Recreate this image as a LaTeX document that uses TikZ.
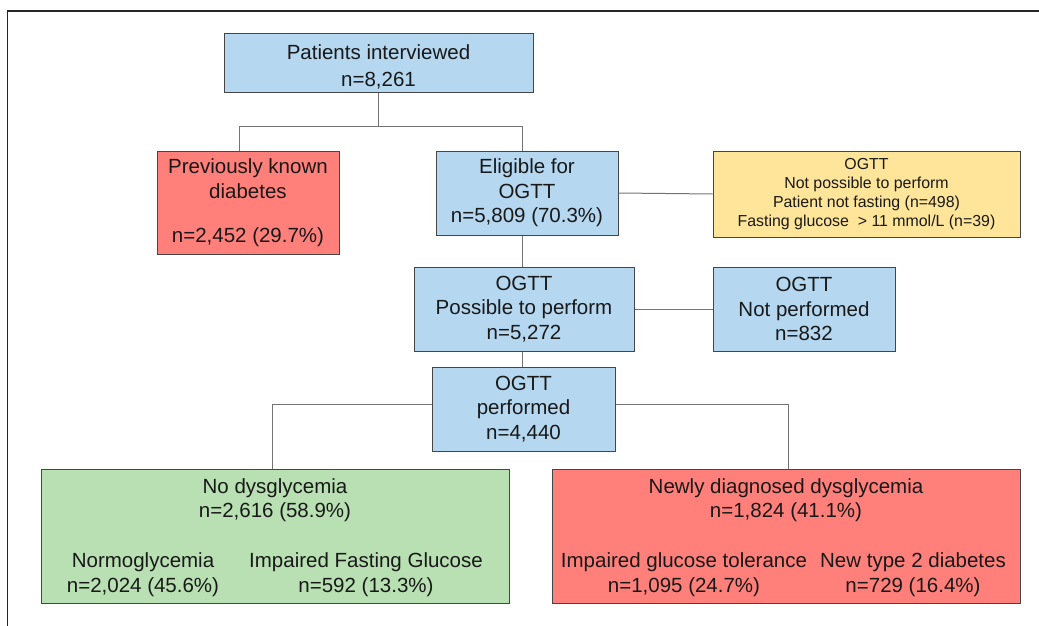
\documentclass[tikz,border=0pt]{standalone}
\usepackage{fontspec}
\setmainfont{Liberation Sans}
\definecolor{boxblue}{RGB}{181,215,240}
\definecolor{boxred}{RGB}{255,128,122}
\definecolor{boxyellow}{RGB}{255,229,153}
\definecolor{boxgreen}{RGB}{184,224,178}
\definecolor{boxline}{RGB}{70,70,70}
\definecolor{linkcol}{RGB}{115,115,115}
\definecolor{textcol}{RGB}{25,25,25}
\begin{document}
\begin{tikzpicture}[x=1pt,y=-1pt,
  box/.style={draw=boxline, line width=1pt, inner sep=0pt, align=center,
    text=textcol, font=\fontsize{20.5}{24.6}\selectfont},
  label/.style={inner sep=0pt, align=center, text=textcol,
    font=\fontsize{20.5}{24.6}\selectfont},
  small/.style={font=\fontsize{15.9}{19}\selectfont},
  link/.style={draw=linkcol, line width=1pt}]
\useasboundingbox (0,0) rectangle (1039,626);

% open frame (top and left edges)
\draw[line width=1.2pt, black!85] (7.5,626) -- (7.5,11) -- (1039,11);

% boxes
\node[box, fill=boxblue, minimum width=309, minimum height=58] (root) at (378.5,63) {};
\node[label] (roottext) at (378.5,67) {Patients interviewed\\[2.4pt]n=8,261};
\node[box, fill=boxred, minimum width=182, minimum height=103] (prev) at (248,202.5)
  {Previously known\\diabetes\\[19.4pt]n=2,452 (29.7\%)};
\node[box, fill=boxblue, minimum width=182, minimum height=84] (elig) at (527,193)
  {Eligible for\\OGTT\\n=5,809 (70.3\%)};
\node[box, small, fill=boxyellow, minimum width=307, minimum height=86] (notposs) at (866.5,194)
  {OGTT\\Not possible to perform\\Patient not fasting (n=498)\\Fasting glucose\ \ > 11 mmol/L (n=39)};
\node[box, fill=boxblue, minimum width=220, minimum height=84] (poss) at (524,309)
  {OGTT\\Possible to perform\\n=5,272};
\node[box, fill=boxblue, minimum width=182, minimum height=84] (notperf) at (804,309)
  {OGTT\\Not performed\\n=832};
\node[box, fill=boxblue, minimum width=183, minimum height=84] (perf) at (523.5,409)
  {OGTT\\performed\\n=4,440};
\node[box, fill=boxgreen, minimum width=468, minimum height=134] (nodys) at (275,536) {};
\node[box, fill=boxred, minimum width=468, minimum height=134] (newdys) at (786,536) {};

% texts of the two outcome boxes
\node[label] (nodyshead) at (275,500) {No dysglycemia\\n=2,616 (58.9\%)};
\node[label] (normo) at (143,574.5) {Normoglycemia\\n=2,024 (45.6\%)};
\node[label] (ifg) at (366,574.5) {Impaired Fasting Glucose\\n=592 (13.3\%)};
\node[label] (newdyshead) at (786,500) {Newly diagnosed dysglycemia\\n=1,824 (41.1\%)};
\node[label] (igt) at (684,574.5) {Impaired glucose tolerance\\n=1,095 (24.7\%)};
\node[label] (t2d) at (913,574.5) {New type 2 diabetes\\n=729 (16.4\%)};

% connectors
\coordinate (j1) at (239,126);
\coordinate (j2) at (522.5,126);
\draw[link] (root.south) -- (root.south |- j1);
\draw[link] (j1 |- prev.north) -- (j1) -- (j2) -- (j2 |- elig.north);
\draw[link] (elig.east) -- (notposs.west);
\draw[link] (j2 |- elig.south) -- (j2 |- poss.north);
\draw[link] (poss.east) -- (notperf.west);
\draw[link] (j2 |- poss.south) -- (j2 |- perf.north);
\coordinate (b1) at (272,404);
\coordinate (b2) at (788,404);
\draw[link] (b1 -| perf.west) -- (b1) -- (b1 |- nodys.north);
\draw[link] (b2 -| perf.east) -- (b2) -- (b2 |- newdys.north);
\end{tikzpicture}
\end{document}
